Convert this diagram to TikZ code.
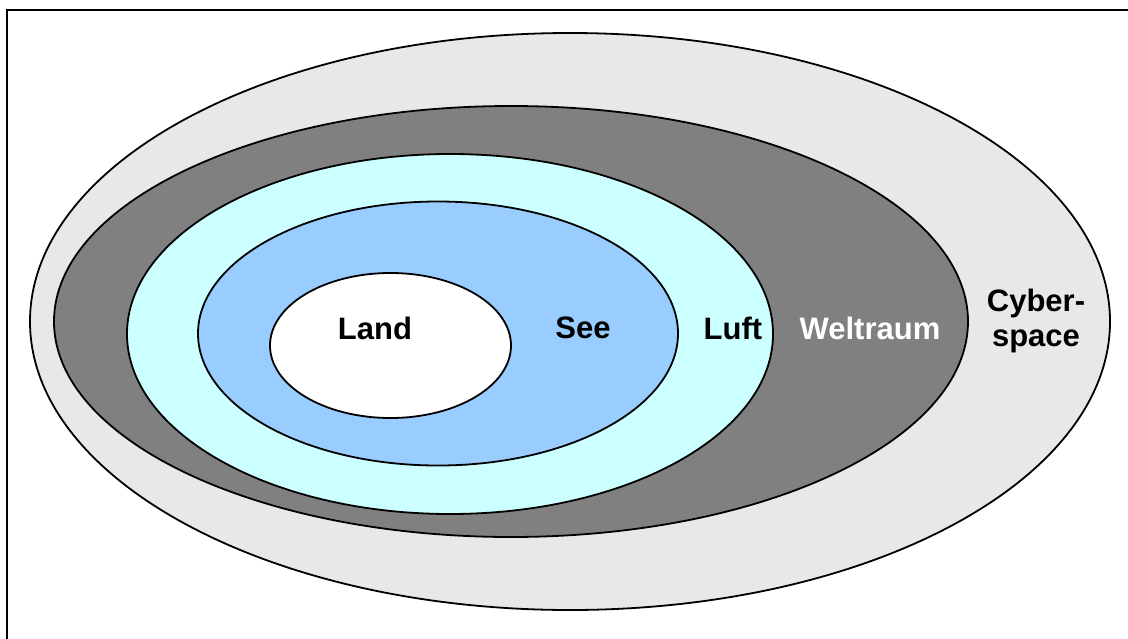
\documentclass[tikz,border=0pt]{standalone}
\usepackage{fontspec}
\setmainfont{Liberation Sans}
\definecolor{cyberfill}{HTML}{E8E8E8}
\definecolor{spacefill}{HTML}{808080}
\definecolor{airfill}{HTML}{CCFFFF}
\definecolor{seafill}{HTML}{99CCFF}
\begin{document}
\begin{tikzpicture}[x=1pt,y=-1pt,
  zone/.style={draw=black,line width=1.8pt},
  lbl/.style={font=\fontsize{31}{35.5}\selectfont\bfseries,inner sep=0pt,align=center}]
\useasboundingbox (0,0) rectangle (1128,638);
% outer frame, running off the right and lower edges
\draw[line width=2pt] (6.5,660) -- (6.5,10.3) -- (1150,10.3);
% nested zones, outermost first
\filldraw[zone,fill=cyberfill] (570,321.5) ellipse [x radius=540,y radius=288.5];
\filldraw[zone,fill=spacefill] (511,321.5) ellipse [x radius=457,y radius=215.5];
\filldraw[zone,fill=airfill] (450,334) ellipse [x radius=323,y radius=180];
\filldraw[zone,fill=seafill] (438,333.5) ellipse [x radius=240,y radius=132];
\filldraw[zone,fill=white] (390.5,345.5) ellipse [x radius=120.5,y radius=72.5];
% labels
\node[lbl] (land) at (375,328) {Land};
\node[lbl] (see) at (583,328) {See};
\node[lbl] (luft) at (733,328) {Luft};
\node[lbl,text=white] (weltraum) at (870,328) {Weltraum};
\node[lbl] (cyber) at (1036,321) {Cyber-\\space};
\end{tikzpicture}
\end{document}
